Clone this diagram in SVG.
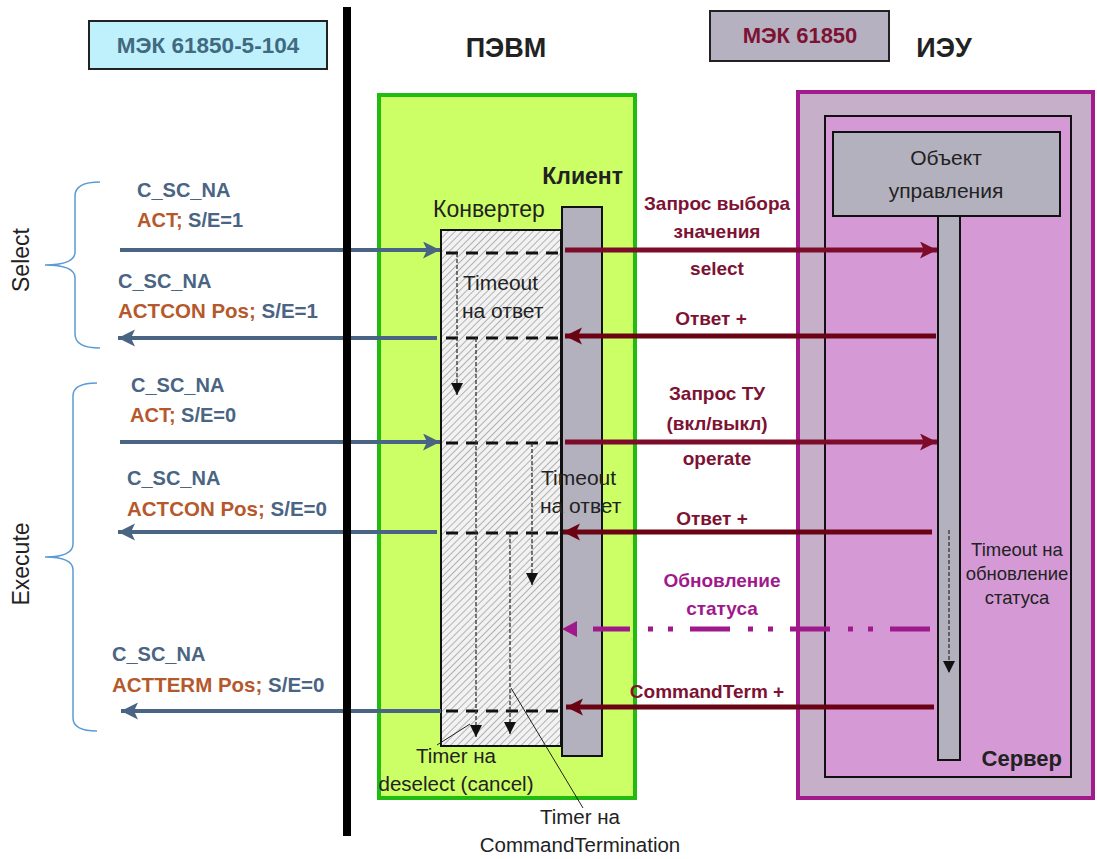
<svg xmlns="http://www.w3.org/2000/svg" width="1097" height="859" viewBox="0 0 1097 859">
<style>
.t{font-family:"Liberation Sans",Arial,sans-serif;}
.b{font-family:"Liberation Sans",Arial,sans-serif;font-weight:bold;}
.blue{fill:#4a6483;}
.org{fill:#b5592c;}
.red{fill:#7d1233;}
.pur{fill:#a0198b;}
.dk{fill:#222;}
.ba{stroke:#4a6483;stroke-width:4;fill:none;}
.ra{stroke:#7d0c2b;stroke-width:5;fill:none;}
.rb{stroke:#6a0414;stroke-width:5;fill:none;}
.hd{stroke:#111;stroke-width:3;stroke-dasharray:12 8;fill:none;}
.vd{stroke:#333;stroke-width:1.3;stroke-dasharray:4 2;fill:none;}
.br{stroke:#5b9bd5;stroke-width:1.5;fill:none;}
</style>
<defs>
<pattern id="hatch" width="5" height="5" patternUnits="userSpaceOnUse" patternTransform="rotate(45)">
<rect width="5" height="5" fill="#f2f2f2"/>
<line x1="0" y1="0" x2="0" y2="5" stroke="#8e8e8e" stroke-width="1.3"/>
</pattern>
<marker id="mb" markerUnits="userSpaceOnUse" markerWidth="20" markerHeight="18" refX="17" refY="8.5" orient="auto">
<path d="M0,0 L17,8.5 L0,17 L4,8.5 z" fill="#4a6483"/>
</marker>
<marker id="mr" markerUnits="userSpaceOnUse" markerWidth="20" markerHeight="18" refX="17" refY="8.5" orient="auto">
<path d="M0,0 L17,8.5 L0,17 L4,8.5 z" fill="#7d0c2b"/>
</marker>
<marker id="mr2" markerUnits="userSpaceOnUse" markerWidth="20" markerHeight="18" refX="17" refY="8.5" orient="auto">
<path d="M0,0 L17,8.5 L0,17 L4,8.5 z" fill="#6a0414"/>
</marker>
<marker id="mp" markerUnits="userSpaceOnUse" markerWidth="20" markerHeight="18" refX="15" refY="8" orient="auto">
<path d="M0,0 L15,8 L0,16 z" fill="#a0198b"/>
</marker>
<marker id="mk" markerUnits="userSpaceOnUse" markerWidth="14" markerHeight="14" refX="12" refY="6" orient="auto">
<path d="M0,0 L12,6 L0,12 z" fill="#111"/>
</marker>
</defs>

<g id="legend-iec104">
<rect x="89" y="21" width="238" height="48" fill="#bff1fc" stroke="#222" stroke-width="2"/>
<text x="208" y="53" class="b" font-size="22.5" text-anchor="middle" fill="#41697f">МЭК 61850-5-104</text>
</g>
<g id="legend-iec61850">
<rect x="710" y="11" width="179" height="50" fill="#b6b1c1" stroke="#222" stroke-width="2"/>
<text x="800" y="43" class="b red" font-size="22" text-anchor="middle">МЭК 61850</text>
</g>
<text x="506" y="57" class="b dk" font-size="27" text-anchor="middle">ПЭВМ</text>
<text x="944" y="57" class="b dk" font-size="27" text-anchor="middle">ИЭУ</text>

<g id="pevm">
<rect x="379" y="95" width="256" height="703" fill="#ccff66" stroke="#22bb11" stroke-width="4"/>
</g>
<g id="ieu">
<rect x="798" y="92" width="295" height="706" fill="#c6afc9" stroke="#a21a8b" stroke-width="4"/>
</g>
<g id="server">
<rect x="825" y="116" width="246" height="661" fill="#d59ad6" stroke="#111" stroke-width="2"/>
<text x="1062" y="766" class="b dk" font-size="22" text-anchor="end">Сервер</text>
</g>
<g id="object">
<rect x="833" y="132" width="227" height="84" fill="#b4b1bf" stroke="#111" stroke-width="2"/>
<text x="946" y="165" class="t dk" font-size="21" text-anchor="middle">Объект</text>
<text x="946" y="198" class="t dk" font-size="21" text-anchor="middle">управления</text>
</g>
<g id="server-lifeline">
<rect x="938" y="216" width="22" height="544" fill="#b4b1bf" stroke="#111" stroke-width="2"/>
</g>
<g id="client">
<text x="623" y="184" class="b dk" font-size="23" text-anchor="end">Клиент</text>
<rect x="562" y="207" width="40" height="549" fill="#b4b1bf" stroke="#111" stroke-width="2"/>
</g>
<g id="converter">
<text x="433" y="217" class="t dk" font-size="23">Конвертер</text>
<rect x="441" y="230" width="120" height="516" fill="url(#hatch)" stroke="#111" stroke-width="2"/>
</g>

<g id="brackets">
<path class="br" d="M100,182 Q75,182 75,196 L75,252 Q75,265 45,265 Q75,265 75,278 L75,334 Q75,348 100,348"/>
<text transform="translate(29,260) rotate(-90)" class="t dk" font-size="23" text-anchor="middle">Select</text>
<path class="br" d="M97,383 Q73,383 73,396 L73,544 Q73,557 45,557 Q73,557 73,570 L73,718 Q73,731 97,731"/>
<text transform="translate(29,564) rotate(-90)" class="t dk" font-size="23" text-anchor="middle">Execute</text>
</g>

<g id="connectors">
<line class="ba" x1="120" y1="250" x2="440" y2="250" marker-end="url(#mb)"/>
<line class="ba" x1="437" y1="338" x2="118" y2="338" marker-end="url(#mb)"/>
<line class="ba" x1="120" y1="442" x2="440" y2="442" marker-end="url(#mb)"/>
<line class="ba" x1="437" y1="532" x2="118" y2="532" marker-end="url(#mb)"/>
<line class="ba" x1="441" y1="711" x2="121" y2="711" marker-end="url(#mb)"/>

<line class="hd" x1="446" y1="253" x2="558" y2="253"/>
<line class="hd" x1="446" y1="338" x2="558" y2="338"/>
<line class="hd" x1="446" y1="443" x2="558" y2="443"/>
<line class="hd" x1="446" y1="533" x2="558" y2="533"/>
<line class="hd" x1="446" y1="711" x2="558" y2="711"/>

<line class="vd" x1="457" y1="253" x2="457" y2="395" marker-end="url(#mk)"/>
<line class="vd" x1="476" y1="338" x2="476" y2="737" marker-end="url(#mk)"/>
<line class="vd" x1="532" y1="443" x2="532" y2="585" marker-end="url(#mk)"/>
<line class="vd" x1="510" y1="533" x2="510" y2="734" marker-end="url(#mk)"/>
<line class="vd" x1="949" y1="530" x2="949" y2="673" marker-end="url(#mk)"/>

<line class="ra" x1="565" y1="250" x2="937" y2="250" marker-end="url(#mr)"/>
<line class="rb" x1="936" y1="336" x2="565" y2="336" marker-end="url(#mr2)"/>
<line class="ra" x1="565" y1="442" x2="937" y2="442" marker-end="url(#mr)"/>
<line class="rb" x1="932" y1="532" x2="563" y2="532" marker-end="url(#mr2)"/>
<line x1="930" y1="629" x2="593" y2="629" stroke="#a0198b" stroke-width="5" stroke-dasharray="40 17 5 15 5 18"/>
<line x1="580" y1="629" x2="562" y2="629" stroke="#a0198b" stroke-width="5" marker-end="url(#mp)" stroke-opacity="0"/>
<line class="rb" x1="934" y1="707" x2="566" y2="707" marker-end="url(#mr2)"/>

<line x1="470" y1="724" x2="437" y2="745" stroke="#222" stroke-width="1"/>
<line x1="511" y1="688" x2="583" y2="808" stroke="#222" stroke-width="1"/>
</g>

<g id="divider">
<line x1="347" y1="7" x2="347" y2="836" stroke="#000" stroke-width="8"/>
</g>

<g id="labels-left">
<text x="137" y="197" class="b blue" font-size="20">C_SC_NA</text>
<text x="137" y="227" class="b" font-size="20"><tspan class="org">ACT;</tspan><tspan class="blue"> S/E=1</tspan></text>
<text x="118" y="288" class="b blue" font-size="20">C_SC_NA</text>
<text x="118" y="318" class="b" font-size="20.5"><tspan class="org">ACTCON Pos;</tspan><tspan class="blue"> S/E=1</tspan></text>
<text x="131" y="392" class="b blue" font-size="20">C_SC_NA</text>
<text x="130" y="422" class="b" font-size="20"><tspan class="org">ACT;</tspan><tspan class="blue"> S/E=0</tspan></text>
<text x="127" y="485" class="b blue" font-size="20">C_SC_NA</text>
<text x="127" y="516" class="b" font-size="20.5"><tspan class="org">ACTCON Pos;</tspan><tspan class="blue"> S/E=0</tspan></text>
<text x="112" y="661" class="b blue" font-size="20">C_SC_NA</text>
<text x="112" y="692" class="b" font-size="20.5"><tspan class="org">ACTTERM Pos;</tspan><tspan class="blue"> S/E=0</tspan></text>
</g>

<g id="labels-right">
<text x="717" y="210" class="b red" font-size="19" text-anchor="middle">Запрос выбора</text>
<text x="717" y="238" class="b red" font-size="19" text-anchor="middle">значения</text>
<text x="717" y="275" class="b red" font-size="19" text-anchor="middle">select</text>
<text x="711" y="325" class="b red" font-size="19" text-anchor="middle">Ответ +</text>
<text x="717" y="400" class="b red" font-size="19" text-anchor="middle">Запрос ТУ</text>
<text x="717" y="430" class="b red" font-size="19" text-anchor="middle">(вкл/выкл)</text>
<text x="717" y="465" class="b red" font-size="19" text-anchor="middle">operate</text>
<text x="712" y="525" class="b red" font-size="19" text-anchor="middle">Ответ +</text>
<text x="722" y="587" class="b pur" font-size="19" text-anchor="middle">Обновление</text>
<text x="722" y="615" class="b pur" font-size="19" text-anchor="middle">статуса</text>
<text x="707" y="698" class="b red" font-size="19" text-anchor="middle">CommandTerm +</text>
</g>

<g id="labels-timers">
<text x="463" y="290" class="t dk" font-size="21">Timeout</text>
<text x="462" y="318" class="t dk" font-size="21">на ответ</text>
<text x="541" y="485" class="t dk" font-size="21">Timeout</text>
<text x="540" y="513" class="t dk" font-size="21">на ответ</text>
<text x="1017" y="556" class="t dk" font-size="18.5" text-anchor="middle">Timeout на</text>
<text x="1017" y="580" class="t dk" font-size="18.5" text-anchor="middle">обновление</text>
<text x="1017" y="604" class="t dk" font-size="18.5" text-anchor="middle">статуса</text>
<text x="456" y="763" class="t dk" font-size="20.5" text-anchor="middle">Timer на</text>
<text x="456" y="791" class="t dk" font-size="20.5" text-anchor="middle">deselect (cancel)</text>
<text x="580" y="824" class="t dk" font-size="20.5" text-anchor="middle">Timer на</text>
<text x="580" y="852" class="t dk" font-size="20.5" text-anchor="middle">CommandTermination</text>
</g>
</svg>
